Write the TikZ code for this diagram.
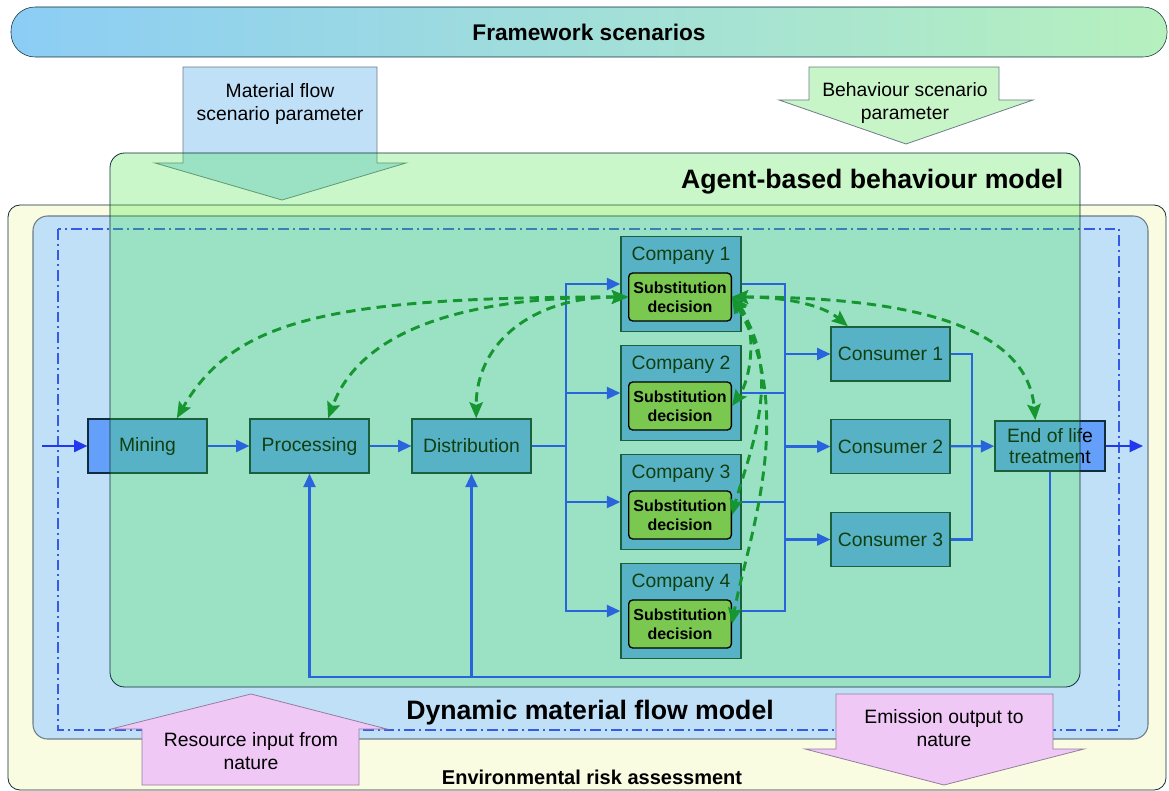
\documentclass[tikz,border=0pt]{standalone}
\usepackage{fontspec}
\setmainfont{Liberation Sans}
\usepackage{tikz}
\usetikzlibrary{arrows.meta}
\definecolor{barleft}{RGB}{140,205,245}
\definecolor{barright}{RGB}{182,240,190}
\definecolor{envyellow}{RGB}{249,252,224}
\definecolor{dynblue}{RGB}{192,224,248}
\definecolor{veilgreen}{RGB}{60,228,60}
\definecolor{boxblue}{RGB}{100,160,250}
\definecolor{boxedge}{RGB}{15,45,60}
\definecolor{flowblue}{RGB}{40,100,220}
\definecolor{outblue}{RGB}{35,55,240}
\definecolor{dashblue}{RGB}{55,90,230}
\definecolor{subgreen}{RGB}{122,200,80}
\definecolor{decgreen}{RGB}{22,150,48}
\definecolor{pink}{RGB}{240,200,245}
\definecolor{pinkedge}{RGB}{150,125,160}
\definecolor{paramgreen}{RGB}{200,245,200}
\definecolor{greyedge}{RGB}{110,125,135}
\newcommand{\flowfont}{\fontsize{14.5}{17}\selectfont}
\newcommand{\subfont}{\fontsize{12}{14.5}\selectfont\bfseries}
\newcommand{\bigtitle}{\fontsize{20}{24}\selectfont\bfseries}
\tikzstyle{bar}=[rectangle,rounded corners=18pt,draw=boxedge,left color=barleft,right color=barright,minimum width=867pt,minimum height=37.5pt,font=\fontsize{17}{20}\selectfont\bfseries]
\tikzstyle{envbox}=[draw=boxedge,fill=envyellow,rounded corners=9pt,line width=0.6pt]
\tikzstyle{dynbox}=[draw=greyedge,fill=dynblue,rounded corners=11pt,line width=0.8pt]
\tikzstyle{agentbox}=[draw=boxedge,fill=veilgreen,fill opacity=0.28,rounded corners=11pt,line width=0.6pt]
\tikzstyle{dashdot}=[draw=dashblue,line width=1.1pt,dash pattern=on 8pt off 3pt on 1.5pt off 3pt]
\tikzstyle{param}=[draw=greyedge,line width=0.6pt]
\tikzstyle{nature}=[draw=pinkedge,fill=pink,line width=0.6pt]
\tikzstyle{plain}=[inner sep=0pt,align=center,font=\flowfont]
\tikzstyle{flowbox}=[rectangle,draw=boxedge,fill=boxblue,line width=1.1pt,inner sep=0pt,align=center,font=\flowfont,minimum width=89pt,minimum height=40.5pt]
\tikzstyle{company}=[rectangle,draw=boxedge,fill=boxblue,line width=1.1pt,minimum width=90pt,minimum height=71pt]
\tikzstyle{subst}=[rectangle,rounded corners=3pt,draw=black,fill=subgreen,line width=1pt,inner sep=0pt,align=center,font=\subfont,minimum width=77pt,minimum height=36pt]
\tikzstyle{flowline}=[-,draw=flowblue,line width=1.6pt]
\tikzstyle{flowarrow}=[-{Triangle[length=10pt,width=9pt]},draw=flowblue,line width=1.6pt]
\tikzstyle{edgeout}=[-{Triangle[length=10pt,width=9pt]},draw=outblue,line width=1.6pt]
\tikzstyle{decide}=[{Stealth[length=12pt,width=10pt,inset=2pt]}-{Stealth[length=12pt,width=10pt,inset=2pt]},draw=decgreen,line width=2.2pt,dash pattern=on 7pt off 4.5pt]
\pgfdeclarelayer{backlayer}
\pgfdeclarelayer{nodelayer}
\pgfdeclarelayer{veillayer}
\pgfsetlayers{backlayer,nodelayer,veillayer,main}
\begin{document}
\begin{tikzpicture}[x=0.75pt,y=-0.75pt]
	\useasboundingbox (0,0) rectangle (1169,791);
	\begin{pgfonlayer}{backlayer}
		\node [style=bar] (frame) at (589,32) {Framework scenarios};
		\draw [style=envbox] (8,205) rectangle (1166,790);
		\draw [style=dynbox] (33,216) rectangle (1148,739);
		\draw [style=dashdot] (58,229) rectangle (1119,730);
		% scenario parameter arrows
		\draw [style=param,fill=dynblue] (183,67) -- (377,67) -- (377,163) -- (406,163) -- (282,200) -- (155,163) -- (183,163) -- cycle;
		\draw [style=param,fill=paramgreen] (809,67) -- (999,67) -- (999,100) -- (1033,100) -- (906,144) -- (779,100) -- (809,100) -- cycle;
		\node [style=plain] (mfp) at (280,104) {Material flow\\scenario parameter};
		\node [style=plain] (bsp) at (905,103) {Behaviour scenario\\parameter};
		% nature arrows
		\draw [style=nature] (142,785) -- (359,785) -- (359,729) -- (387,729) -- (251,694) -- (111,729) -- (142,729) -- cycle;
		\draw [style=nature] (836,694) -- (1053,694) -- (1053,749) -- (1084,749) -- (944,785) -- (805,749) -- (836,749) -- cycle;
		\node [style=plain] (rin) at (251,751) {Resource input from\\nature};
		\node [style=plain] (eout) at (944,728) {Emission output to\\nature};
		\node [font=\fontsize{15}{18}\selectfont\bfseries] (era) at (592,777) {Environmental risk assessment};
	\end{pgfonlayer}
	\begin{pgfonlayer}{nodelayer}
		\node [style=flowbox] (mine) at (147.5,446) {Mining};
		\node [style=flowbox] (proc) at (309.5,446) {Processing};
		\node [style=flowbox] (dist) at (471.5,446) {Distribution};
		\node [style=company] (c1) at (681,284) {};
		\node [style=company] (c2) at (681,393) {};
		\node [style=company] (c3) at (681,502) {};
		\node [style=company] (c4) at (681,611) {};
		\node [style=plain] (c1t) at (681,256) {Company 1};
		\node [style=plain] (c2t) at (681,365) {Company 2};
		\node [style=plain] (c3t) at (681,474) {Company 3};
		\node [style=plain] (c4t) at (681,583) {Company 4};
		\node [style=flowbox] (u1) at (890.5,354) {Consumer 1};
		\node [style=flowbox] (u2) at (890.5,446.5) {Consumer 2};
		\node [style=flowbox] (u3) at (890.5,539.5) {Consumer 3};
		\node [style=flowbox,minimum width=82.5pt,minimum height=37.5pt,text depth=0pt] (eol) at (1050,446) {End of life\\[-1pt]treatment};
	\end{pgfonlayer}
	\begin{pgfonlayer}{veillayer}
		\draw [style=agentbox] (110,153) rectangle (1080,687);
	\end{pgfonlayer}
	\node [anchor=east,font=\bigtitle] (abm) at (1068,182) {Agent-based behaviour model};
	\node [font=\bigtitle] (dmf) at (590,713) {Dynamic material flow model};
	\node [style=subst] (s1) at (680,297) {Substitution\\decision};
	\node [style=subst] (s2) at (680,406) {Substitution\\decision};
	\node [style=subst] (s3) at (680,515) {Substitution\\decision};
	\node [style=subst] (s4) at (680,624) {Substitution\\decision};
	\coordinate (src) at (42,446);
	\coordinate (dst) at (1143,446);
	\coordinate (busA) at (566,446);
	\coordinate (busB) at (785,446);
	\coordinate (busC) at (972,446);
	\coordinate (fb) at (0,677);
	\draw [style=edgeout] (src) to (mine);
	\draw [style=flowarrow] (mine) to (proc);
	\draw [style=flowarrow] (proc) to (dist);
	\draw [style=flowline] (dist) to (busA);
	\foreach \k in {1,...,4} {
		\draw [style=flowarrow] (busA) |- (c\k);
		\draw [style=flowline] (c\k) -| (busB);
	}
	\foreach \k in {1,...,3}
		\draw [style=flowarrow] (busB) |- (u\k);
	\draw [style=flowline] (u1) -| (busC);
	\draw [style=flowline] (u3) -| (busC);
	\draw [style=flowarrow] (u2) to (eol);
	\draw [style=edgeout] (eol) to (dst);
	\draw [style=flowarrow] (eol.south) |- (proc.south |- fb) to (proc.south);
	\draw [style=flowarrow] (dist.south |- fb) to (dist.south);
	% substitution decisions talk to the whole chain
	\draw [style=decide] (s1.west) to[out=180,in=60,out distance=225pt,in distance=85pt] ([xshift=22pt]mine.north);
	\draw [style=decide] (s1.west) to[out=180,in=70,out distance=140pt,in distance=62pt] ([xshift=14pt]proc.north);
	\draw [style=decide] (s1.west) to[out=180,in=90,out distance=70pt,in distance=58pt] ([xshift=3.5pt]dist.north);
	\draw [style=decide] (s1.east) to[out=0,in=140,out distance=40pt,in distance=25pt] ([xshift=-32pt]u1.north);
	\draw [style=decide] (s1.east) to[out=0,in=95,out distance=150pt,in distance=65pt] ([xshift=-11pt]eol.north);
	\draw [style=decide] (s1.east) to[out=-50,in=55,out distance=30pt,in distance=25pt] (s2.east);
	\draw [style=decide] (s1.east) to[out=-55,in=75,out distance=70pt,in distance=45pt] (s3.east);
	\draw [style=decide] (s1.east) to[out=-60,in=80,out distance=100pt,in distance=60pt] (s4.east);
\end{tikzpicture}
\end{document}
